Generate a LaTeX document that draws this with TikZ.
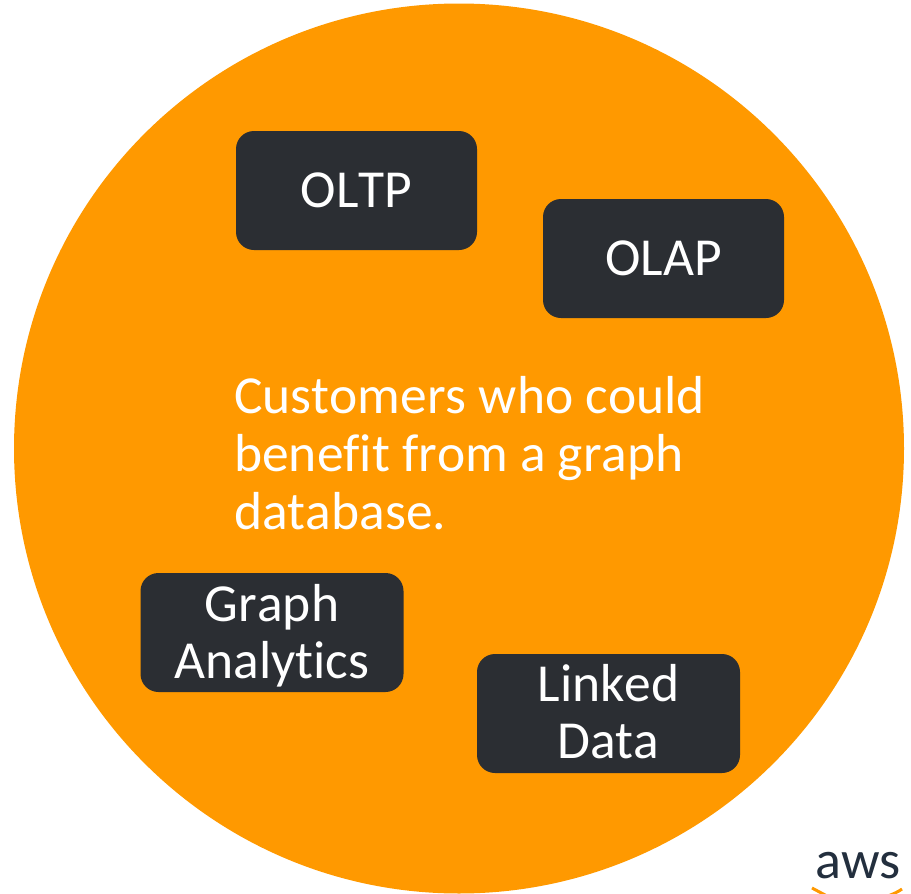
\documentclass[tikz,border=0pt]{standalone}
\usepackage{fontspec}
\setmainfont[Ligatures=NoCommon,Kerning=Off]{Carlito}
\definecolor{awsorange}{HTML}{FF9900}
\definecolor{awsdark}{HTML}{2B2E33}
\definecolor{awslogo}{HTML}{232F3E}
\newcommand{\nudged}[2]{\raisebox{#1}[30pt][10pt]{#2}}
\tikzset{
	usecase/.style={fill=awsdark,rounded corners=18pt,minimum width=241pt,minimum height=119pt,text=white,align=center,font=\fontsize{53.5}{57}\selectfont,inner sep=0pt},
	usecasewide/.style={usecase,minimum width=263pt}
}
\begin{document}
\begin{tikzpicture}[x=1pt,y=-1pt]
		\useasboundingbox (0,0) rectangle (911,894);
		\begin{scope}
			\clip (0,0) rectangle (911,894);
			\fill[awsorange] (459,448.5) circle (445pt);
			\draw[awsorange,line width=3pt] (812,888) -- (827,896) (888,896) .. controls (893,894) and (898,892) .. (902,889);
		\end{scope}
		\node[usecase] (oltp) at (356.5,190.5) {OLTP};
		\node[usecase] (olap) at (663.5,258.5) {OLAP};
		\node[usecasewide] (analytics) at (272,632.5) {\nudged{-7pt}{Graph}\\\nudged{-7pt}{Analytics}};
		\node[usecasewide] (linked) at (608.5,713.5) {\nudged{-6pt}{Linked}\\\nudged{-6pt}{Data}};
		\node[anchor=north west,align=left,text=white,inner sep=0pt,font=\fontsize{53.5}{58}\selectfont] (customers) at (234,376) {Customers who could\\benefit from a graph\\database.};
		\node[anchor=base,text=awslogo,inner sep=0pt,font=\fontsize{54}{54}\selectfont] (aws) at (858,878) {aws};
	\end{tikzpicture}
\end{document}
